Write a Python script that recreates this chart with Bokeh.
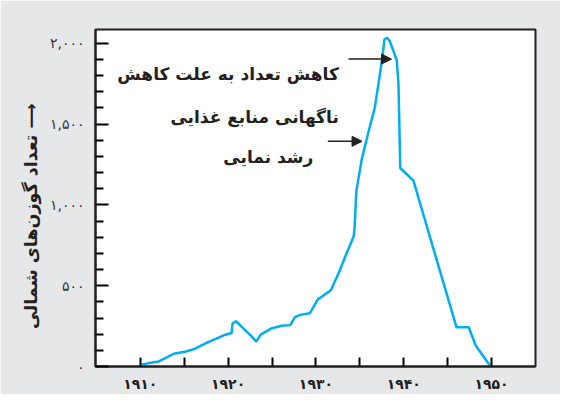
from bokeh.plotting import figure
from bokeh.models import Range1d, FixedTicker, Label, Arrow, NormalHead
from bokeh.embed import file_html
from bokeh.resources import INLINE

# ---- data ----
years = [1910.1, 1911.0, 1912.1, 1912.8, 1913.8, 1915.2, 1916.2, 1917.6, 1919.5,
         1920.4, 1920.5, 1920.9, 1921.7, 1922.6, 1923.2, 1923.7, 1925.0, 1926.1,
         1927.1, 1927.6, 1928.3, 1929.3, 1930.2, 1931.7, 1932.6, 1933.4, 1934.3,
         1934.4, 1934.6, 1935.2, 1935.9, 1936.7, 1937.2, 1937.6, 1937.8, 1938.1,
         1938.4, 1939.2, 1939.4, 1939.6, 1941.1, 1946.0, 1947.4, 1948.2, 1949.9]
reindeer = [11, 21, 31, 50, 79, 93, 109, 148, 193,
            207, 266, 280, 237, 191, 154, 197, 237, 252,
            256, 305, 321, 329, 414, 472, 580, 688, 806,
            855, 1085, 1277, 1434, 1601, 1778, 1925, 2024, 2034,
            2014, 1896, 1748, 1228, 1150, 243, 243, 128, 0]

x_ticks = [1910, 1920, 1930, 1940, 1950]
x_minor = [1915, 1925, 1935, 1945]
x_tick_labels = ["۱۹۱۰", "۱۹۲۰", "۱۹۳۰", "۱۹۴۰", "۱۹۵۰"]
y_ticks = [0, 500, 1000, 1500, 2000]
y_minor = [v for v in range(100, 2001, 100) if v % 500 != 0]
y_tick_labels = ["۰", "۵۰۰", "۱,۰۰۰", "۱,۵۰۰", "۲,۰۰۰"]

y_title = "تعداد گوزن\u200cهای شمالی ⟶" + "\u00a0" * 6
note_lines = ["کاهش تعداد به علت کاهش", "ناگهانی منابع غذایی", "رشد نمایی"]

FONT = "DejaVu Sans"
INK = "#231f20"
X0, X1 = 1904.9, 1955
Y0, Y1 = 0, 2085

p = figure(width=560, height=394, output_backend="svg", toolbar_location=None,
           x_range=Range1d(X0, X1), y_range=Range1d(Y0, Y1),
           min_border_left=95, min_border_right=25, min_border_top=29,
           min_border_bottom=25)
p.xgrid.visible = False
p.ygrid.visible = False
p.background_fill_color = "white"
p.border_fill_color = "#e6e7e8"
p.outline_line_color = INK
p.outline_line_width = 2

p.line(years, reindeer, line_color="#00aeef", line_width=2.5)

xa = p.xaxis[0]
xa.ticker = FixedTicker(ticks=x_ticks, minor_ticks=x_minor)
xa.major_label_overrides = dict(zip(x_ticks, x_tick_labels))
xa.major_tick_in = 9
xa.major_tick_out = 0
xa.minor_tick_in = 9
xa.minor_tick_out = 0
xa.major_tick_line_width = 2
xa.minor_tick_line_width = 2
xa.major_tick_line_color = "black"
xa.minor_tick_line_color = "black"
xa.axis_line_color = INK
xa.axis_line_width = 2
xa.major_label_standoff = 9
xa.major_label_text_font = FONT
xa.major_label_text_font_size = "14px"
xa.major_label_text_font_style = "bold"
xa.major_label_text_color = INK

ya = p.yaxis[0]
ya.ticker = FixedTicker(ticks=y_ticks, minor_ticks=y_minor)
ya.major_label_overrides = dict(zip(y_ticks, y_tick_labels))
ya.major_tick_in = 13
ya.major_tick_out = 0
ya.minor_tick_in = 8
ya.minor_tick_out = 0
ya.major_tick_line_width = 2
ya.minor_tick_line_width = 2
ya.major_tick_line_color = "black"
ya.minor_tick_line_color = "black"
ya.axis_line_color = INK
ya.axis_line_width = 2
ya.major_label_standoff = 11
ya.major_label_text_font = FONT
ya.major_label_text_font_size = "14px"
ya.major_label_text_color = "#333333"
ya.axis_label = y_title
ya.axis_label_text_font = FONT
ya.axis_label_text_font_size = "17.5px"
ya.axis_label_text_font_style = "bold"
ya.axis_label_text_color = INK
ya.axis_label_standoff = 6

# annotations
note_x = [1932.6, 1932.6, 1929.7]
note_y = [1807, 1542, 1299]
for t, nx, ny in zip(note_lines, note_x, note_y):
    p.add_layout(Label(x=nx, y=ny, text=t, text_align="right", text_baseline="middle",
                       text_font=FONT, text_font_style="bold", text_font_size="17px",
                       text_color=INK))

arrow_start = [(1933.7, 1902), (1931.35, 1393)]
arrow_end = [(1938.6, 1902), (1935.25, 1393)]
for (x0, y0), (x1, y1) in zip(arrow_start, arrow_end):
    p.add_layout(Arrow(end=NormalHead(size=10, fill_color=INK, line_color=INK),
                       x_start=x0, y_start=y0, x_end=x1, y_end=y1,
                       line_color=INK, line_width=1.5))

open("out.html", "w").write(file_html(p, INLINE))
